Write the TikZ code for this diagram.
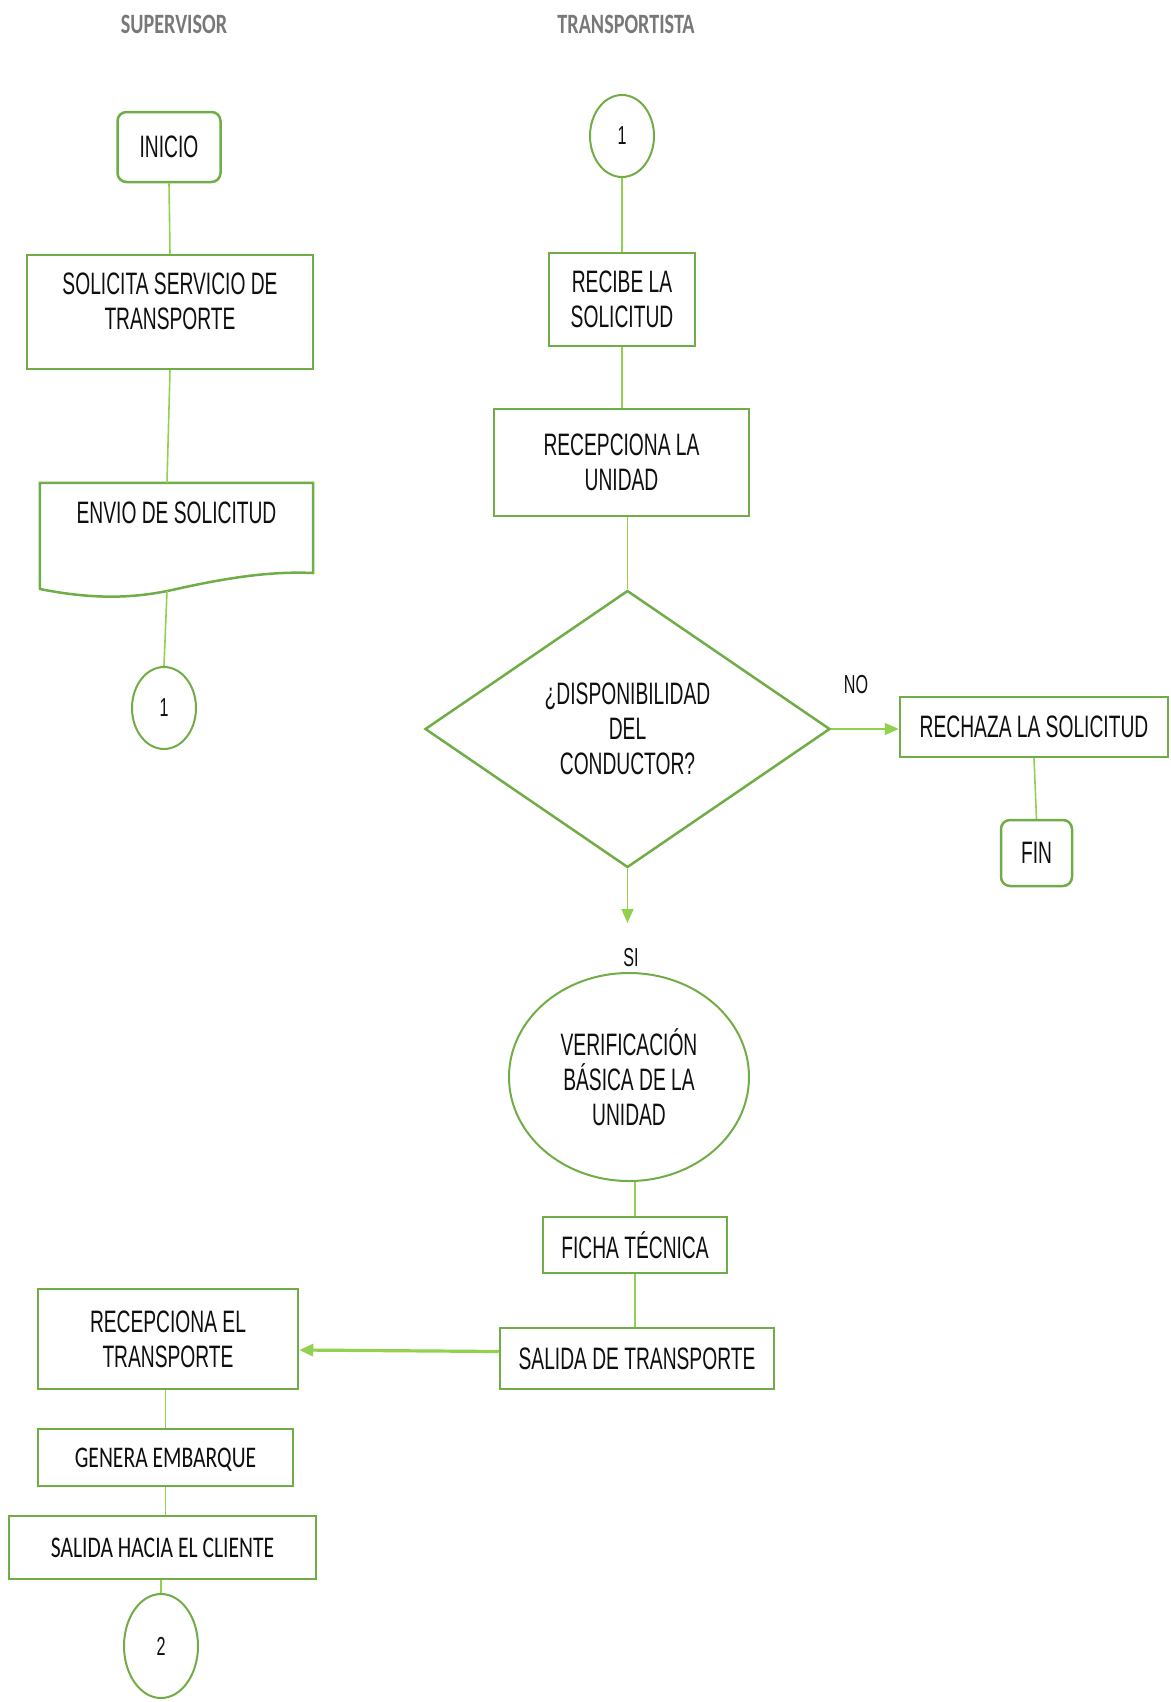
\documentclass[tikz,border=0pt]{standalone}
\usepackage{fontspec}
\setmainfont{Liberation Sans}[FakeStretch=0.62]
\newfontfamily\calfont{Carlito}[FakeStretch=0.72]
\usetikzlibrary{shapes.geometric,arrows.meta}
\definecolor{boxgreen}{RGB}{112,173,71}
\definecolor{linegreen}{RGB}{146,208,80}
\definecolor{ink}{RGB}{15,15,15}
\definecolor{titlegray}{RGB}{120,120,120}
\begin{document}
\begin{tikzpicture}[x=1pt,y=-1pt,
  every node/.style={text=ink, font=\fontsize{31}{35}\selectfont, align=center, inner sep=0pt},
  proc/.style={draw=boxgreen, line width=2.5pt, rectangle},
  term/.style={proc, rounded corners=9pt},
  conn/.style={draw=boxgreen, line width=2pt, ellipse},
  link/.style={draw=linegreen, line width=1.6pt},
  arr/.style={link, -{Triangle[length=14pt,width=12pt]}},
  lane/.style={text=titlegray, font=\calfont\fontsize{28}{30}\selectfont\bfseries},
  tag/.style={font=\fontsize{26}{30}\selectfont},
  small/.style={font=\calfont\fontsize{30}{34}\selectfont}
]
\useasboundingbox (0,0) rectangle (1170,1702);

% lane titles
\node[lane] (tSup) at (174,24) {SUPERVISOR};
\node[lane] (tTra) at (626,24) {TRANSPORTISTA};

% supervisor lane, upper part
\node[term, minimum width=103, minimum height=70] (inicio) at (169,147) {INICIO};
\node[proc, minimum width=286, minimum height=114, text depth=22pt] (solicita) at (170,312) {SOLICITA SERVICIO DE\\TRANSPORTE};
\node[minimum width=273, minimum height=112] (envio) at (176.5,539) {};
\draw[boxgreen, line width=2.5pt] (envio.north west) -- (40,589)
  .. controls (95,600) and (135,598) .. (172,590)
  .. controls (225,578) and (270,571) .. (313,573) -- (envio.north east) -- cycle;
\node (envioT) at (176.5,513) {ENVIO DE SOLICITUD};
\coordinate (envioB) at (167,591);
\node[conn, tag, minimum width=64, minimum height=82] (c1a) at (164,708) {1};

\draw[link] (inicio.south) -- (solicita.north);
\draw[link] (solicita.south) -- (envio.north -| envioB);
\draw[link] (envioB) -- (c1a.north);

% transportista lane
\node[conn, tag, minimum width=64, minimum height=82] (c1b) at (622,136) {1};
\node[proc, minimum width=146, minimum height=93] (recibe) at (622,299.5) {RECIBE LA\\SOLICITUD};
\node[proc, minimum width=255, minimum height=107] (recepU) at (621.5,462.5) {RECEPCIONA LA\\UNIDAD};
\node[draw=boxgreen, line width=2.5pt, diamond, aspect=1.46, minimum width=405, minimum height=277] (disp) at (627.5,729) {¿DISPONIBILIDAD\\DEL\\CONDUCTOR?};
\node[proc, minimum width=268, minimum height=60] (rechaza) at (1034,727) {RECHAZA LA SOLICITUD};
\node[term, minimum width=71, minimum height=66] (fin) at (1036.5,853) {FIN};
\coordinate (siEnd) at (627.5,923);
\node[tag] (si) at (631,958) {SI};
\node[tag] (no) at (856,685) {NO};
\node[draw=boxgreen, line width=2pt, ellipse, minimum width=240, minimum height=208] (verif) at (629,1077) {VERIFICACIÓN\\BÁSICA DE LA\\UNIDAD};
\node[proc, minimum width=184, minimum height=56] (ficha) at (635,1245) {FICHA TÉCNICA};
\node[proc, minimum width=274, minimum height=61] (salidaT) at (637,1358.5) {SALIDA DE TRANSPORTE};

\draw[link] (c1b.south) -- (recibe.north);
\draw[link] (recibe.south) -- (recepU.north -| recibe.south);
\draw[link] (recepU.south -| disp.north) -- (disp.north);
\draw[arr] (disp.east) -- (disp.east -| rechaza.west);
\draw[link] (rechaza.south) -- (fin.north);
\draw[arr] (disp.south) -- (siEnd);
\draw[link] (verif.south -| ficha.north) -- (ficha.north);
\draw[link] (ficha.south) -- (salidaT.north -| ficha.south);

% supervisor lane, lower part
\node[proc, minimum width=260, minimum height=100] (recepT) at (168,1339) {RECEPCIONA EL\\TRANSPORTE};
\node[proc, small, minimum width=255, minimum height=57, text depth=-6pt] (genera) at (165.5,1457.5) {GENERA EMBARQUE};
\node[proc, small, minimum width=307, minimum height=63, text depth=-6pt] (salidaC) at (162.5,1547.5) {SALIDA HACIA EL CLIENTE};
\node[conn, tag, minimum width=74, minimum height=104] (c2) at (161,1646) {2};

\draw[arr, line width=3.2pt] ([yshift=7pt]salidaT.west) -- ([yshift=-11pt]recepT.east);
\draw[link] (recepT.south -| genera.north) -- (genera.north);
\draw[link] (genera.south) -- (salidaC.north -| genera.south);
\draw[link] (salidaC.south -| c2.north) -- (c2.north);
\end{tikzpicture}
\end{document}
